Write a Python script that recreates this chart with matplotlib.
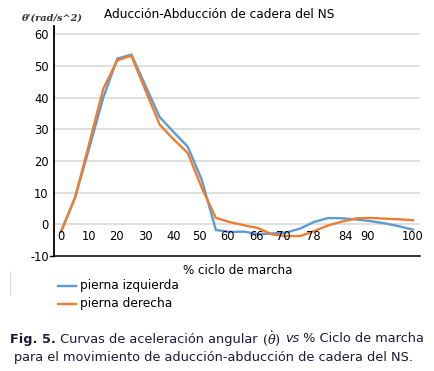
import matplotlib
matplotlib.use("Agg")
import matplotlib.pyplot as plt
from matplotlib.lines import Line2D
import numpy as np

plt.rcParams['font.family'] = ['DejaVu Sans']
plt.rcParams['mathtext.fontset'] = 'dejavuserif'

# ---- data ----
x_tick_labels = ["0", "10", "20", "30", "40", "50", "60", "66", "70", "78", "84", "90", "100"]
x_tick_pos = [0, 2, 3.9, 6, 8, 9.85, 11.8, 13.9, 15.8, 17.9, 20.2, 21.8, 25]

izquierda = [-2.3, 8.5, 24.0, 40.0, 52.3, 53.6, 43.7, 33.9, 29.1, 24.5, 14.0, -1.8,
             -2.4, -2.3, -3.1, -2.9, -2.6, -1.3, 0.8, 2.0, 1.9, 1.5, 1.0, 0.3, -0.6, -1.7]
derecha = [-2.3, 8.5, 25.5, 42.8, 51.8, 53.2, 42.3, 31.5, 26.8, 22.5, 11.5, 2.0,
           0.7, -0.3, -1.2, -3.2, -3.7, -3.7, -2.1, -0.3, 0.9, 1.9, 2.0, 1.8, 1.6, 1.3]
y_ticks = [-10, 0, 10, 20, 30, 40, 50, 60]

title = "Aducción-Abducción de cadera del NS"
ylabel = "θ'(rad/s^2)"
xlabel = "% ciclo de marcha"
series_names = ["pierna izquierda", "pierna derecha"]

BLUE = "#5B9BD5"
ORANGE = "#ED7D31"

W, H = 434, 371
fig = plt.figure(figsize=(W / 100, H / 100), dpi=100)

def fx(px):
    return px / W

def fy(py):
    return 1 - py / H

ax = fig.add_axes([fx(54), fy(256), fx(420) - fx(54), fy(25.7) - fy(256)])
k = np.arange(len(izquierda))
ax.plot(k, izquierda, color=BLUE, lw=1.7, solid_joinstyle='round')
ax.plot(k, derecha, color=ORANGE, lw=1.7, solid_joinstyle='round')

ax.set_xlim(-0.5, len(izquierda) - 0.5)
ax.set_ylim(-10, 62.7)
ax.set_yticks(y_ticks)
ax.set_yticklabels([str(v) for v in y_ticks], fontsize=8.3)
ax.tick_params(axis='y', length=0, pad=3.8)
ax.set_xticks([])
for v in y_ticks[1:]:
    ax.axhline(v, color="#dcdcdc", lw=1.3, zorder=0)

for s in ["top", "right"]:
    ax.spines[s].set_visible(False)
ax.spines["left"].set_linewidth(1.3)
ax.spines["bottom"].set_linewidth(1.1)
ax.plot([-0.78, -0.5], [-10, -10], color="black", lw=1.0, clip_on=False)

for p, lab in zip(x_tick_pos, x_tick_labels):
    ax.text(p, -3.9, lab, ha="center", va="center", fontsize=8.3)

fig.text(fx(219), fy(14), title, ha="center", va="center", fontsize=8.7)
fig.text(fx(22), fy(18), ylabel, ha="left", va="center", fontsize=7.0,
         family="DejaVu Serif", style="italic", weight="bold", color="#333333")
fig.text(fx(238), fy(270), xlabel, ha="center", va="center", fontsize=8.6)

for i, (name, col) in enumerate(zip(series_names, [BLUE, ORANGE])):
    yy = fy(285.7 + 18.3 * i)
    fig.add_artist(Line2D([fx(58), fx(76)], [yy, yy], color=col, lw=1.7))
    fig.text(fx(80), yy, name, ha="left", va="center", fontsize=8.8)

fig.add_artist(Line2D([fx(10), fx(10)], [fy(271), fy(295)], color="#dddddd", lw=0.8))

# caption built from pieces
CAP_COLOR = "#1a1a3a"
CAP_FS = 9.3
pieces1 = [("Fig. 5.", dict(weight="bold")),
           (" Curvas de aceleración angular ", {}),
           (r"$(\dot{\theta})$", {}),
           (" ", {}),
           ("vs", dict(style="italic")),
           (" % Ciclo de marcha", {})]
renderer = fig.canvas.get_renderer()
texts = []
widths = []
for s, kw in pieces1:
    t = fig.text(0, fy(339), s, ha="left", va="center", fontsize=CAP_FS,
                 color=CAP_COLOR, **kw)
    bb = t.get_window_extent(renderer=renderer)
    texts.append(t)
    widths.append(bb.width)
total = sum(widths)
xpix = 217 - total / 2
for t, w in zip(texts, widths):
    t.set_x(fx(xpix))
    xpix += w

cap2 = "para el movimiento de aducción-abducción de cadera del NS."
fig.text(fx(214), fy(357), cap2, ha="center", va="center", fontsize=CAP_FS,
         color=CAP_COLOR)

fig.savefig("out.png", dpi=100)
